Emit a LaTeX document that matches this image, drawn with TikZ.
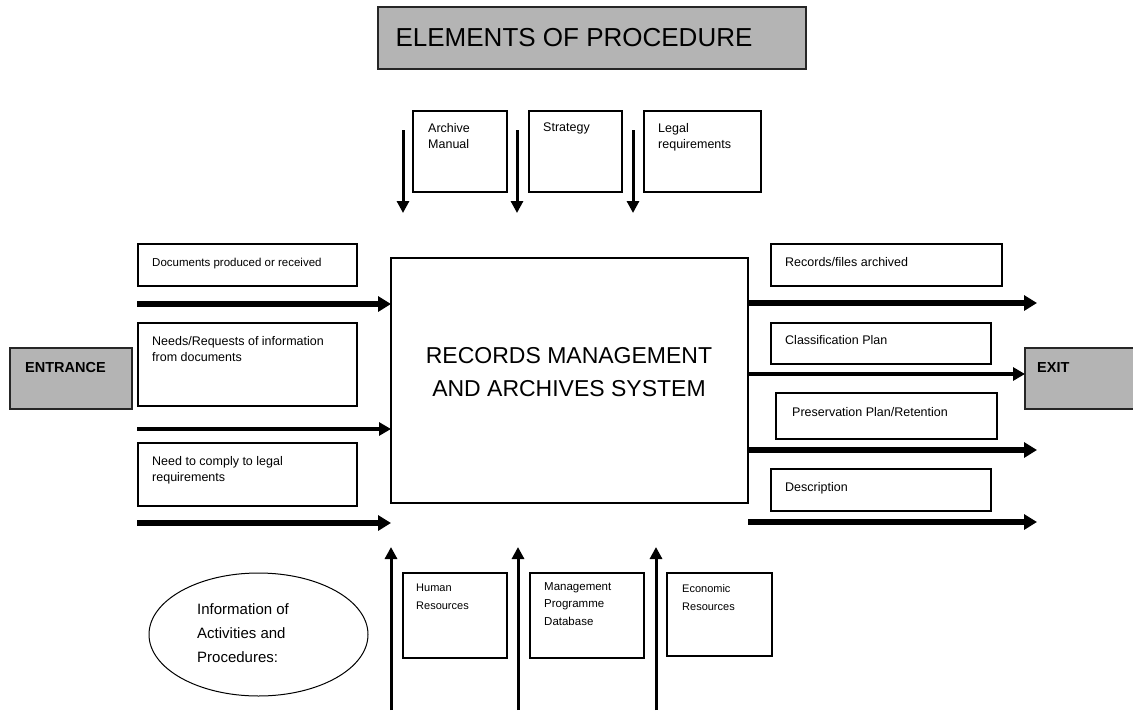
\documentclass[tikz,border=0pt]{standalone}
\usepackage{fontspec}
\setmainfont{Liberation Sans}
\usetikzlibrary{arrows.meta,calc,shapes.geometric}
\definecolor{boxgrey}{RGB}{180,180,180}
\begin{document}
\begin{tikzpicture}[x=1pt,y=-1pt,
  box/.style={draw=black, line width=1.2pt, fill=white, anchor=north west, inner sep=0pt, outer sep=0pt},
  greybox/.style={draw=black!85, line width=1.2pt, fill=boxgrey, anchor=north west, inner sep=0pt, outer sep=0pt},
  lbl/.style={anchor=north west, inner sep=0pt, align=left},
  fa/.style={font=\fontsize{12.5}{16}\selectfont},
  fb/.style={font=\fontsize{11.5}{17.5}\selectfont},
  fc/.style={font=\fontsize{11}{18}\selectfont},
  fat/.style={line width=5.5pt, -{Triangle[length=13pt,width=15pt]}},
  mid/.style={line width=3.5pt, -{Triangle[length=12pt,width=13pt]}},
  thin/.style={line width=3pt, -{Triangle[length=12pt,width=12pt]}}]
\useasboundingbox (0,0) rectangle (1133,710);

% title
\node[greybox, minimum width=428pt, minimum height=62pt] (title) at (378,7) {};
\node[font=\fontsize{26}{30}\selectfont, inner sep=0pt] (titleT) at ($(title.center)+(-18,0)$) {ELEMENTS OF PROCEDURE};

% main box
\node[box, minimum width=357pt, minimum height=245pt] (main) at (391,258) {};
\node[font=\fontsize{23}{33}\selectfont, align=center, inner sep=0pt] (mainT) at (569,372) {RECORDS MANAGEMENT\\AND ARCHIVES SYSTEM};

% entrance / exit
\node[greybox, minimum width=122pt, minimum height=61pt] (entr) at (10,348) {};
\node[lbl, font=\bfseries\fontsize{14.5}{16}\selectfont] (entrT) at ($(entr.north west)+(15,14)$) {ENTRANCE};
\node[greybox, minimum width=115pt, minimum height=61pt] (exit) at (1025,348) {};
\node[lbl, font=\bfseries\fontsize{14.5}{16}\selectfont] (exitT) at ($(exit.north west)+(12,14)$) {EXIT};

% top boxes
\node[box, minimum width=94pt, minimum height=81pt] (arch) at (413,111) {};
\node[lbl, fa] (archT) at ($(arch.north west)+(15,12)$) {Archive\\Manual};
\node[box, minimum width=93pt, minimum height=81pt] (strat) at (529,111) {};
\node[lbl, fa] (stratT) at ($(strat.north west)+(14,12)$) {Strategy};
\node[box, minimum width=117pt, minimum height=81pt] (legal) at (644,111) {};
\node[lbl, fa] (legalT) at ($(legal.north west)+(14,12)$) {Legal\\requirements};

% left boxes
\node[box, minimum width=219pt, minimum height=42pt] (docs) at (138,244) {};
\node[lbl, fb] (docsT) at ($(docs.north west)+(14,14)$) {Documents produced or received};
\node[box, minimum width=219pt, minimum height=83pt] (needs) at (138,323) {};
\node[lbl, fa] (needsT) at ($(needs.north west)+(14,13)$) {Needs/Requests of information\\from documents};
\node[box, minimum width=219pt, minimum height=63pt] (comply) at (138,443) {};
\node[lbl, fa] (complyT) at ($(comply.north west)+(14,13)$) {Need to comply to legal\\requirements};

% right boxes
\node[box, minimum width=231pt, minimum height=42pt] (recs) at (771,244) {};
\node[lbl, fa] (recsT) at ($(recs.north west)+(14,13)$) {Records/files archived};
\node[box, minimum width=220pt, minimum height=41pt] (class) at (771,323) {};
\node[lbl, fa] (classT) at ($(class.north west)+(14,12)$) {Classification Plan};
\node[box, minimum width=221pt, minimum height=46pt] (pres) at (776,393) {};
\node[lbl, fa] (presT) at ($(pres.north west)+(16,14)$) {Preservation Plan/Retention};
\node[box, minimum width=220pt, minimum height=42pt] (descr) at (771,469) {};
\node[lbl, fa] (descrT) at ($(descr.north west)+(14,13)$) {Description};

% bottom boxes
\node[box, minimum width=104pt, minimum height=85pt] (human) at (403,573) {};
\node[lbl, fc] (humanT) at ($(human.north west)+(13,11)$) {Human\\Resources};
\node[box, minimum width=114pt, minimum height=85pt] (mgmt) at (530,573) {};
\node[lbl, fb] (mgmtT) at ($(mgmt.north west)+(14,9)$) {Management\\Programme\\Database};
\node[box, minimum width=105pt, minimum height=83pt] (econ) at (667,573) {};
\node[lbl, fc] (econT) at ($(econ.north west)+(15,11)$) {Economic\\Resources};

% ellipse
\node[draw=black, line width=1pt, ellipse, minimum width=219pt, minimum height=123pt, inner sep=0pt] (info) at (258.5,634.5) {};
\node[lbl, font=\fontsize{15}{24}\selectfont] (infoT) at (197,603) {Information of\\Activities and\\Procedures:};

% left arrows
\coordinate (l1) at (137,304);
\coordinate (l2) at (137,429);
\coordinate (l3) at (137,523);
\draw[fat] (l1) -- (l1 -| main.west);
\draw[mid] (l2) -- (l2 -| main.west);
\draw[fat] (l3) -- (l3 -| main.west);

% right arrows
\coordinate (r1) at (1037,303);
\coordinate (r2) at (1025,374);
\coordinate (r3) at (1037,450);
\coordinate (r4) at (1037,522);
\draw[fat] (main.east |- r1) -- (r1);
\draw[mid] (main.east |- r2) -- (r2);
\draw[fat] (main.east |- r3) -- (r3);
\draw[fat] (main.east |- r4) -- (r4);

% down arrows
\coordinate (d1s) at (403,130);
\coordinate (d1e) at (403,213);
\coordinate (d2s) at (517,130);
\coordinate (d2e) at (517,213);
\coordinate (d3s) at (633,130);
\coordinate (d3e) at (633,213);
\draw[thin] (d1s) -- (d1e);
\draw[thin] (d2s) -- (d2e);
\draw[thin] (d3s) -- (d3e);

% up arrows
\coordinate (u1s) at (391,710);
\coordinate (u1e) at (391,547);
\coordinate (u2s) at (518,710);
\coordinate (u2e) at (518,547);
\coordinate (u3s) at (656,710);
\coordinate (u3e) at (656,547);
\draw[thin] (u1s) -- (u1e);
\draw[thin] (u2s) -- (u2e);
\draw[thin] (u3s) -- (u3e);
\end{tikzpicture}
\end{document}
